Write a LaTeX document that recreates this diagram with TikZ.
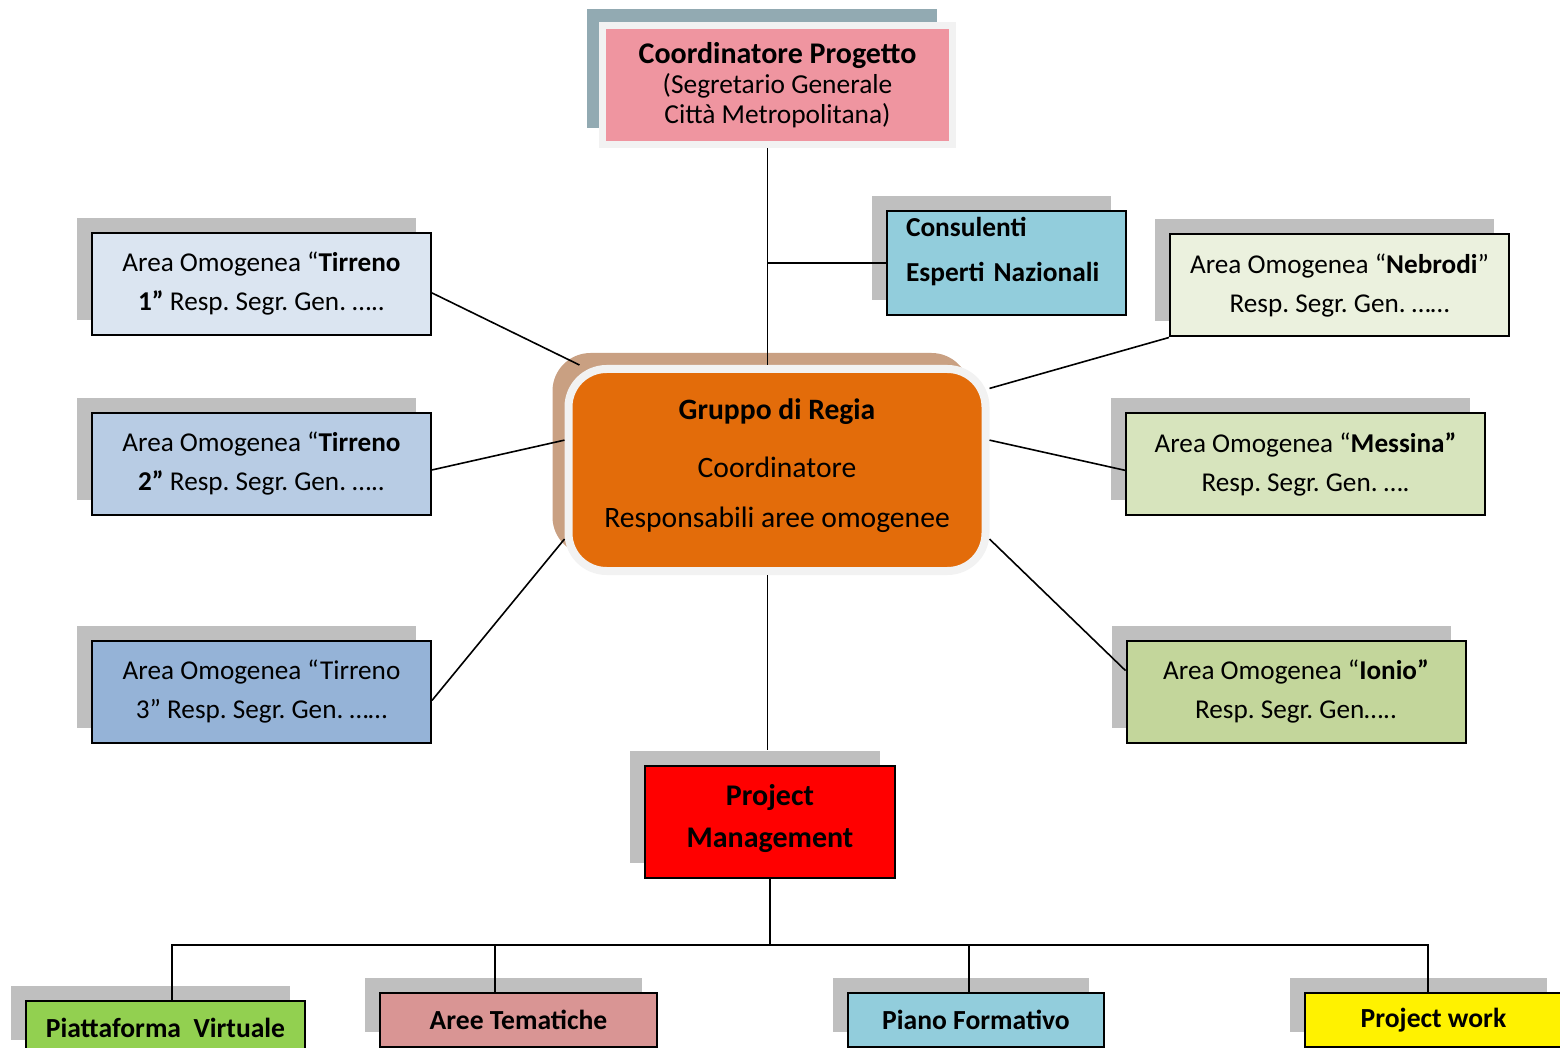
\documentclass[tikz,border=0pt]{standalone}
\usepackage{fontspec}
\setmainfont{Carlito}
\usetikzlibrary{shadows}

\definecolor{slategray}{RGB}{146,170,178}
\definecolor{paleframe}{RGB}{242,242,242}
\definecolor{rosepink}{RGB}{239,149,160}
\definecolor{tanshadow}{RGB}{201,160,130}
\definecolor{regiaorange}{RGB}{227,108,10}
\definecolor{boxshadow}{RGB}{191,191,191}
\definecolor{aqua}{RGB}{146,205,220}
\definecolor{tirrenoA}{RGB}{219,229,241}
\definecolor{tirrenoB}{RGB}{184,204,228}
\definecolor{tirrenoC}{RGB}{149,179,215}
\definecolor{nebrodicol}{RGB}{235,241,222}
\definecolor{messinacol}{RGB}{215,228,189}
\definecolor{ioniocol}{RGB}{195,214,155}
\definecolor{limegreen}{RGB}{146,208,80}
\definecolor{oldrose}{RGB}{217,149,148}

\frenchspacing

\begin{document}
\begin{tikzpicture}[x=0.5pt, y=-0.5pt]
  \tikzstyle{shadowbox} = [rectangle, draw, line width=1pt, align=center,
    general shadow={fill=boxshadow, shadow xshift=-7.5pt, shadow yshift=7.5pt}]
  \tikzstyle{areabox} = [shadowbox, minimum width=169.5pt, minimum height=51pt,
    font=\fontsize{13.6pt}{19.5pt}\selectfont]
  \tikzstyle{taskbox} = [shadowbox, minimum height=27pt,
    font=\bfseries\fontsize{13.8pt}{16pt}\selectfont]
  \tikzstyle{conn} = [draw, line width=0.8pt]

  \useasboundingbox (0,0) rectangle (1560,1048);
  \clip (0,0) rectangle (1560,1048);

  % Place nodes
  \node [rectangle, draw=paleframe, line width=3.5pt, fill=rosepink,
    minimum width=175pt, minimum height=59.5pt, align=center,
    font=\fontsize{13.7pt}{15pt}\selectfont,
    general shadow={fill=slategray, shadow xshift=-8pt, shadow yshift=8pt}]
    (coord) at (777.5,85)
    {{\fontsize{15pt}{15pt}\selectfont\bfseries Coordinatore Progetto}\\(Segretario Generale\\Città Metropolitana)};
  \node [rectangle, rounded corners=19pt, draw=paleframe, line width=4pt,
    fill=regiaorange, minimum width=208.5pt, minimum height=101pt, align=center,
    text depth=6.5pt, font=\fontsize{14.8pt}{25pt}\selectfont,
    general shadow={fill=tanshadow, shadow xshift=-8pt, shadow yshift=8pt}]
    (regia) at (777,470) {\textbf{Gruppo di Regia}\\[4pt]Coordinatore\\Responsabili aree omogenee};
  \node [shadowbox, fill=aqua, minimum width=119.5pt, minimum height=52pt,
    text width=100.5pt, inner xsep=9.5pt, align=left, text depth=36pt,
    font=\bfseries\fontsize{13.7pt}{22.5pt}\selectfont]
    (consul) at (1006.5,263) {Consulenti\\Esperti Nazionali};

  \node [areabox, fill=tirrenoA] (tirA) at (261.5,284)
    {Area Omogenea “\textbf{Tirreno}\\\textbf{1”} Resp. Segr. Gen. …..};
  \node [areabox, fill=tirrenoB, below of=tirA, node distance=90pt] (tirB)
    {Area Omogenea “\textbf{Tirreno}\\\textbf{2”} Resp. Segr. Gen. …..};
  \node [areabox, fill=tirrenoC, below of=tirB, node distance=113.75pt] (tirC)
    {Area Omogenea “Tirreno\\3” Resp. Segr. Gen. ……};
  \node [areabox, fill=nebrodicol] (nebrodi) at (1339.5,285.5)
    {Area Omogenea “\textbf{Nebrodi}”\\Resp. Segr. Gen. ……};
  \node [areabox, fill=messinacol, minimum width=179.5pt, right of=tirB,
    node distance=522pt] (messina)
    {Area Omogenea “\textbf{Messina”}\\Resp. Segr. Gen. ….};
  \node [areabox, fill=ioniocol, right of=tirC, node distance=517.25pt] (ionio)
    {Area Omogenea “\textbf{Ionio”}\\Resp. Segr. Gen…..};

  \node [shadowbox, fill=red, minimum width=125pt, minimum height=56pt,
    text depth=6pt, font=\bfseries\fontsize{15pt}{21pt}\selectfont]
    (pm) at (770,822) {Project\\Management};

  \node [taskbox, fill=limegreen, minimum width=139.5pt] (piatt) at (165.5,1028) {Piattaforma~ Virtuale};
  \node [taskbox, fill=oldrose, minimum width=138.5pt] (aree) at (518.5,1020) {Aree Tematiche};
  \node [taskbox, fill=aqua, minimum width=128pt] (piano) at (976,1020) {Piano Formativo};
  \node [taskbox, fill=yellow, minimum width=128.5pt] (pwork) at (1433.5,1020) {Project work};

  % Draw edges
  \path [conn] (coord.-99) -- (coord.-99 |- regia.north);
  \path [conn] (consul.west) -- (consul.west -| coord.-99);
  \path [conn] (tirA.-3) -- (regia.152);
  \path [conn] (tirB.-2) -- (regia.172);
  \path [conn] (tirC.-3) -- (regia.198);
  \path [conn] (nebrodi.south west) -- (regia.21);
  \path [conn] (messina.182) -- (regia.8);
  \path [conn] (ionio.173) -- (regia.-18);
  \path [conn] (regia.south -| coord.-99) -- ([yshift=7.5pt]pm.north -| coord.-99);

  \coordinate (bus) at ([yshift=-33pt]pm.south);
  \path [conn] (pm.south) -- (bus);
  \path [conn] ([xshift=3.25pt]piatt.north) |- (bus) -| ([xshift=-2.75pt]pwork.north);
  \path [conn] ([xshift=-11.75pt]aree.north) -- ([xshift=-11.75pt]aree.north |- bus);
  \path [conn] ([xshift=-3.5pt]piano.north) -- ([xshift=-3.5pt]piano.north |- bus);

\end{tikzpicture}
\end{document}
